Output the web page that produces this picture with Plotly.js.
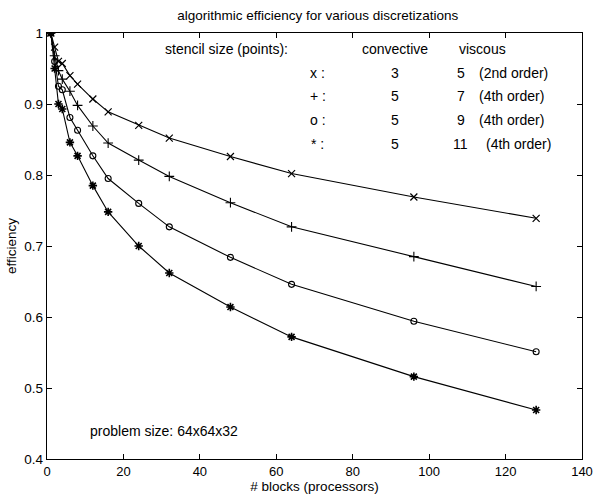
<!DOCTYPE html>
<html>
<head>
<meta charset="utf-8">
<script src="https://cdn.plot.ly/plotly-3.0.1.min.js"></script>
<style>html,body{margin:0;padding:0;background:#fff;}#chart{width:594px;height:494px;}</style>
</head>
<body>
<div id="chart"></div>
<script>
// number of blocks (processors)
var blocks = [1, 2, 3, 4, 6, 8, 12, 16, 24, 32, 48, 64, 96, 128];
// efficiency for each stencil combination
var effX    = [1.0, 0.980, 0.960, 0.957, 0.940, 0.928, 0.907, 0.889, 0.870, 0.852, 0.826, 0.802, 0.769, 0.739];
var effPlus = [1.0, 0.968, 0.947, 0.935, 0.918, 0.898, 0.869, 0.845, 0.821, 0.798, 0.761, 0.727, 0.685, 0.643];
var effO    = [1.0, 0.960, 0.925, 0.920, 0.881, 0.863, 0.827, 0.795, 0.760, 0.727, 0.684, 0.646, 0.594, 0.551];
var effStar = [1.0, 0.950, 0.900, 0.893, 0.846, 0.827, 0.785, 0.748, 0.700, 0.662, 0.614, 0.572, 0.516, 0.469];

var seriesNames = ["x", "+", "o", "*"];
var symbols = ["x-thin-open", "cross-thin-open", "circle-open", "asterisk-open"];
var convective = ["3", "5", "5", "5"];
var viscous = ["5", "7", "9", "11"];
var orders = ["(2nd order)", "(4th order)", "(4th order)", "(4th order)"];
var rowLabels = ["x :", "+ :", "o :", "* :"];

var xTicks = [0, 20, 40, 60, 80, 100, 120, 140];
var yTicks = [0.4, 0.5, 0.6, 0.7, 0.8, 0.9, 1];
var yTickText = ["0.4", "0.5", "0.6", "0.7", "0.8", "0.9", "1"];

var FONT = "Liberation Sans, Arial, Helvetica, sans-serif";
var allEff = [effX, effPlus, effO, effStar];
var sizes = [7, 7, 6, 7];
var mlw = [1.2, 1.1, 1.1, 1.6];

var traces = allEff.map(function (ys, i) {
  return {
    x: blocks, y: ys, type: "scatter", mode: "lines+markers",
    name: seriesNames[i],
    line: {color: "#000", width: 1.1},
    marker: {symbol: symbols[i], size: sizes[i], color: "#000", line: {color: "#000", width: mlw[i]}},
    showlegend: false, hoverinfo: "skip"
  };
});

var TS = 14;
var rowY = [0.944, 0.911, 0.877, 0.843];
var ann = [];
function t(x, y, text, anchor) {
  ann.push({x: x, y: y, xref: "x", yref: "y", text: text, showarrow: false, xanchor: anchor, yanchor: "middle",
            font: {family: FONT, size: TS, color: "#000"}});
}
t(30.4, 0.978, "stencil size (points):", "left");
t(81.9, 0.978, "convective", "left");
t(120.6, 0.978, "viscous", "right");
for (var i = 0; i < 4; i++) {
  t(70.9, rowY[i], rowLabels[i], "center");
  t(91.1, rowY[i], convective[i], "center");
  t(108.3, rowY[i], viscous[i], "center");
  t(i === 3 ? 114.4 : 112.6, rowY[i], orders[i], "left");
}
t(10.7, 0.439, "problem size: 64x64x32", "left");

var layout = {
  width: 594, height: 494,
  margin: {l: 47, r: 12, t: 33, b: 35, pad: 0},
  paper_bgcolor: "#fff", plot_bgcolor: "#fff",
  font: {family: FONT, size: 14, color: "#000"},
  title: {text: "algorithmic efficiency for various discretizations", font: {family: FONT, size: 13.5, color: "#000"},
          x: 0.535, xref: "container", xanchor: "center", y: 0.969, yref: "container", yanchor: "middle"},
  xaxis: {
    range: [0, 140], tickvals: xTicks, ticktext: xTicks.map(String),
    ticks: "inside", ticklen: 5, tickcolor: "#000", tickwidth: 1,
    showline: true, linecolor: "#000", linewidth: 1.2, mirror: "ticks",
    showgrid: false, zeroline: false,
    tickfont: {family: FONT, size: 13, color: "#000"},
    title: {text: "# blocks (processors)", font: {family: FONT, size: 13.5, color: "#000"}, standoff: 3}
  },
  yaxis: {
    range: [0.4, 1], tickvals: yTicks, ticktext: yTickText,
    ticks: "inside", ticklen: 5, tickcolor: "#000", tickwidth: 1,
    showline: true, linecolor: "#000", linewidth: 1.2, mirror: "ticks",
    showgrid: false, zeroline: false,
    tickfont: {family: FONT, size: 13.5, color: "#000"},
    title: {text: "efficiency", font: {family: FONT, size: 13.5, color: "#000"}, standoff: 4}
  },
  annotations: ann
};

Plotly.newPlot("chart", traces, layout, {staticPlot: true, displayModeBar: false});
</script>
</body>
</html>
